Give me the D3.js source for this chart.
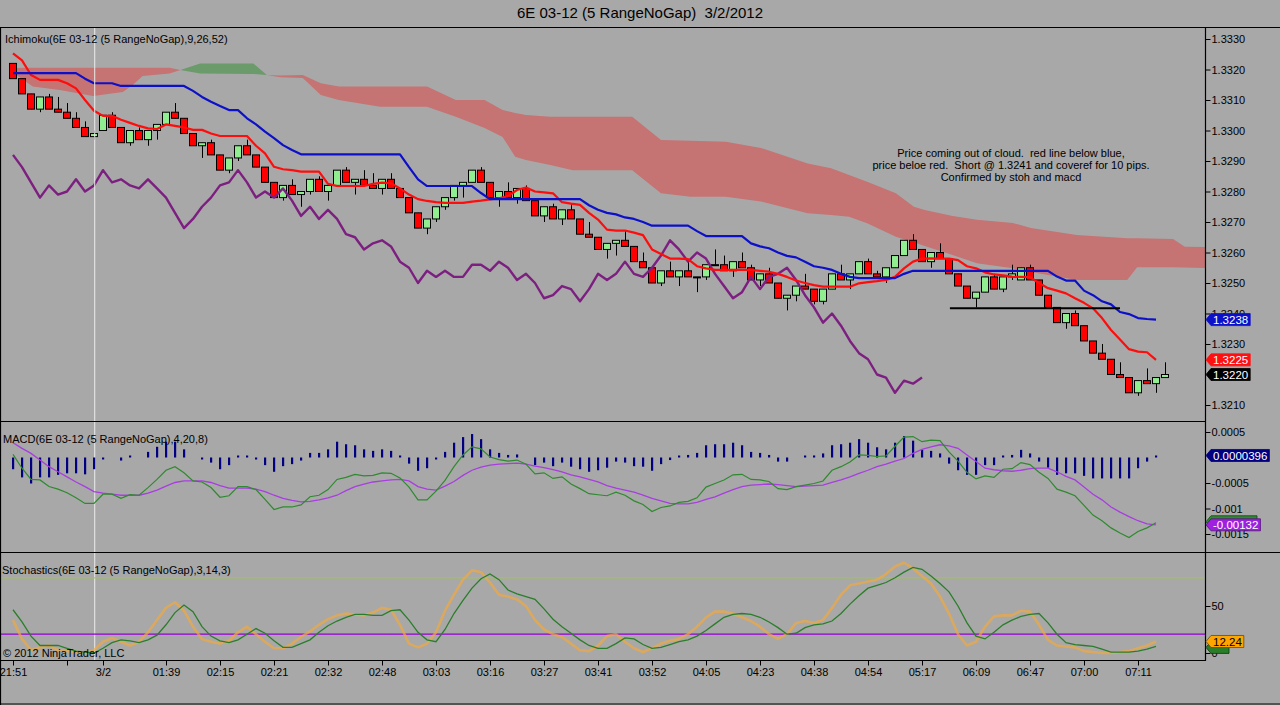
<!DOCTYPE html>
<html><head><meta charset="utf-8">
<script src="https://cdn.jsdelivr.net/npm/d3@7/dist/d3.min.js"></script>
<style>
html,body{margin:0;padding:0;background:#a8a8a8;overflow:hidden}
svg{display:block}
text{font-family:"Liberation Sans",Arial,Helvetica,sans-serif;white-space:pre}
</style></head><body>
<svg id="chart" width="1280" height="705"></svg>
<script>
// ---------------- DATA ----------------
const title = "6E 03-12 (5 RangeNoGap)  3/2/2012";
const xTickBars = [0,6,10,17,23,29,35,41,47,53,59,65,71,77,83,89,95,101,107,113,119,125];
const xTickLabels = ["21:51","","3/2","01:39","02:15","02:21","02:32","02:48","03:03","03:16","03:27","03:41","03:52","04:05","04:23","04:38","04:54","05:17","06:09","06:47","07:00","07:11"];
const priceTicks = [1.3330,1.3320,1.3310,1.3300,1.3290,1.3280,1.3270,1.3260,1.3250,1.3240,1.3230,1.3210];
const macdTicks = [0.0005,-0.0005,-0.001,-0.0015];
const macdTickLabels = ["0.0005","-0.0005","-0.001","-0.0015"];
const stochTicks = [0,50];
const stochLevels = [20,80];

const open=[1.3322,1.3317,1.3312,1.3307,1.3311,1.3307,1.3306,1.3304,1.3301,1.3298,
1.3300,1.3305,1.3301,1.3296,1.3300,1.3297,1.3300,1.3302,1.3306,1.3304,
1.3299,1.3295,1.3296,1.3292,1.3287,1.3291,1.3295,1.3292,1.3288,1.3283,
1.3278,1.3282,1.3279,1.3280,1.3284,1.3280,1.3282,1.3287,1.3283,1.3284,
1.3282,1.3281,1.3284,1.3281,1.3278,1.3273,1.3268,1.3271,1.3275,1.3278,
1.3282,1.3283,1.3287,1.3283,1.3278,1.3280,1.3278,1.3281,1.3277,1.3272,
1.3275,1.3271,1.3274,1.3271,1.3266,1.3265,1.3261,1.3263,1.3264,1.3262,
1.3257,1.3255,1.3250,1.3254,1.3252,1.3254,1.3252,1.3252,1.3256,1.3256,
1.3254,1.3257,1.3255,1.3251,1.3253,1.3250,1.3245,1.3246,1.3249,1.3248,
1.3244,1.3248,1.3253,1.3251,1.3253,1.3257,1.3253,1.3252,1.3255,1.3259,
1.3264,1.3261,1.3257,1.3260,1.3258,1.3253,1.3249,1.3245,1.3247,1.3252,
1.3248,1.3252,1.3251,1.3255,1.3251,1.3246,1.3242,1.3237,1.3240,1.3236,
1.3231,1.3227,1.3225,1.3220,1.3219,1.3214,1.3218,1.3217,1.3219];
const high=[1.3322,1.3317,1.3312,1.3311,1.3312,1.3311,1.3309,1.3306,1.3303,1.3300,
1.3305,1.3306,1.3301,1.3300,1.3301,1.3300,1.3302,1.3306,1.3309,1.3304,
1.3299,1.3296,1.3297,1.3292,1.3291,1.3295,1.3297,1.3292,1.3288,1.3283,
1.3282,1.3284,1.3280,1.3284,1.3285,1.3282,1.3287,1.3288,1.3284,1.3287,
1.3286,1.3284,1.3286,1.3281,1.3278,1.3273,1.3271,1.3275,1.3278,1.3282,
1.3283,1.3287,1.3288,1.3283,1.3280,1.3283,1.3281,1.3282,1.3277,1.3275,
1.3276,1.3274,1.3276,1.3271,1.3270,1.3265,1.3263,1.3264,1.3267,1.3262,
1.3260,1.3255,1.3254,1.3257,1.3254,1.3257,1.3252,1.3256,1.3261,1.3259,
1.3257,1.3260,1.3256,1.3253,1.3255,1.3250,1.3246,1.3249,1.3253,1.3248,
1.3248,1.3253,1.3256,1.3253,1.3257,1.3258,1.3254,1.3255,1.3259,1.3264,
1.3266,1.3261,1.3260,1.3263,1.3258,1.3253,1.3249,1.3247,1.3252,1.3253,
1.3252,1.3256,1.3255,1.3256,1.3251,1.3246,1.3242,1.3240,1.3241,1.3236,
1.3231,1.3230,1.3225,1.3224,1.3219,1.3218,1.3222,1.3219,1.3224];
const low=[1.3317,1.3312,1.3307,1.3306,1.3307,1.3306,1.3304,1.3301,1.3298,1.3297,
1.3300,1.3301,1.3296,1.3295,1.3297,1.3295,1.3297,1.3302,1.3304,1.3299,
1.3295,1.3291,1.3292,1.3287,1.3286,1.3290,1.3292,1.3288,1.3283,1.3278,
1.3277,1.3279,1.3275,1.3279,1.3280,1.3277,1.3282,1.3283,1.3279,1.3282,
1.3281,1.3279,1.3281,1.3278,1.3273,1.3268,1.3266,1.3270,1.3274,1.3277,
1.3278,1.3283,1.3283,1.3278,1.3275,1.3278,1.3276,1.3277,1.3272,1.3270,
1.3271,1.3269,1.3271,1.3266,1.3265,1.3261,1.3258,1.3259,1.3262,1.3257,
1.3255,1.3250,1.3249,1.3252,1.3249,1.3252,1.3247,1.3251,1.3256,1.3254,
1.3252,1.3255,1.3251,1.3249,1.3250,1.3245,1.3241,1.3244,1.3248,1.3243,
1.3243,1.3248,1.3251,1.3248,1.3253,1.3253,1.3252,1.3250,1.3255,1.3259,
1.3261,1.3257,1.3255,1.3258,1.3253,1.3249,1.3245,1.3242,1.3247,1.3248,
1.3247,1.3251,1.3251,1.3251,1.3246,1.3242,1.3237,1.3235,1.3236,1.3231,
1.3227,1.3225,1.3220,1.3219,1.3214,1.3213,1.3217,1.3214,1.3219];
const close=[1.3317,1.3312,1.3307,1.3311,1.3307,1.3306,1.3304,1.3301,1.3298,1.3299,
1.3305,1.3301,1.3296,1.3300,1.3297,1.3300,1.3302,1.3306,1.3304,1.3299,
1.3295,1.3296,1.3292,1.3287,1.3291,1.3295,1.3292,1.3288,1.3283,1.3278,
1.3282,1.3279,1.3280,1.3284,1.3280,1.3282,1.3287,1.3283,1.3284,1.3282,
1.3281,1.3284,1.3281,1.3278,1.3273,1.3268,1.3271,1.3275,1.3278,1.3282,
1.3283,1.3287,1.3283,1.3278,1.3280,1.3278,1.3281,1.3277,1.3272,1.3275,
1.3271,1.3274,1.3271,1.3266,1.3265,1.3261,1.3263,1.3264,1.3262,1.3257,
1.3255,1.3250,1.3254,1.3252,1.3254,1.3252,1.3252,1.3256,1.3256,1.3254,
1.3257,1.3255,1.3251,1.3253,1.3250,1.3245,1.3246,1.3249,1.3248,1.3244,
1.3248,1.3253,1.3251,1.3253,1.3257,1.3253,1.3252,1.3255,1.3259,1.3264,
1.3261,1.3257,1.3260,1.3258,1.3253,1.3249,1.3245,1.3247,1.3252,1.3248,
1.3252,1.3253,1.3255,1.3251,1.3246,1.3242,1.3237,1.3240,1.3236,1.3231,
1.3227,1.3225,1.3220,1.3219,1.3214,1.3218,1.3217,1.3219,1.3220];

// Ichimoku
const tenkan=[1.33253,1.33230,1.33182,1.33166,1.33166,1.33166,1.33155,1.33138,1.33100,1.33065,
1.33048,1.33048,1.33035,1.33025,1.33015,1.33007,1.33005,1.33020,1.33015,1.33010,
1.33002,1.33002,1.32990,1.32982,1.32982,1.32982,1.32982,1.32950,1.32925,1.32881,
1.32873,1.32870,1.32865,1.32865,1.32865,1.32825,1.32818,1.32818,1.32818,1.32818,
1.32825,1.32829,1.32827,1.32810,1.32790,1.32775,1.32769,1.32765,1.32763,1.32763,
1.32763,1.32767,1.32770,1.32774,1.32778,1.32785,1.32805,1.32813,1.32800,1.32797,
1.32794,1.32765,1.32760,1.32756,1.32730,1.32708,1.32675,1.32672,1.32672,1.32665,
1.32657,1.32610,1.32595,1.32580,1.32580,1.32578,1.32555,1.32548,1.32543,1.32543,
1.32543,1.32543,1.32543,1.32540,1.32537,1.32530,1.32520,1.32508,1.32500,1.32493,
1.32488,1.32488,1.32488,1.32488,1.32499,1.32503,1.32506,1.32510,1.32520,1.32548,
1.32570,1.32580,1.32581,1.32580,1.32580,1.32575,1.32555,1.32548,1.32535,1.32528,
1.32525,1.32521,1.32520,1.32519,1.32500,1.32483,1.32475,1.32466,1.32450,1.32435,
1.32417,1.32385,1.32346,1.32315,1.32283,1.32275,1.32273,1.32248];
const kijun=[1.33188,1.33188,1.33188,1.33188,1.33188,1.33188,1.33188,1.33188,1.33170,1.33155,
1.33155,1.33155,1.33146,1.33146,1.33146,1.33146,1.33146,1.33146,1.33146,1.33146,
1.33130,1.33110,1.33094,1.33080,1.33067,1.33067,1.33040,1.33020,1.32996,1.32975,
1.32952,1.32936,1.32922,1.32922,1.32922,1.32922,1.32922,1.32922,1.32922,1.32922,
1.32922,1.32922,1.32922,1.32922,1.32880,1.32840,1.32818,1.32818,1.32818,1.32818,
1.32818,1.32818,1.32795,1.32775,1.32775,1.32775,1.32775,1.32775,1.32775,1.32775,
1.32775,1.32775,1.32775,1.32775,1.32755,1.32740,1.32730,1.32725,1.32715,1.32710,
1.32700,1.32688,1.32688,1.32688,1.32688,1.32688,1.32670,1.32654,1.32654,1.32654,
1.32654,1.32654,1.32630,1.32620,1.32614,1.32600,1.32589,1.32584,1.32570,1.32555,
1.32550,1.32543,1.32530,1.32520,1.32516,1.32516,1.32516,1.32516,1.32516,1.32530,
1.32540,1.32540,1.32540,1.32540,1.32540,1.32540,1.32540,1.32540,1.32540,1.32540,
1.32540,1.32540,1.32540,1.32540,1.32540,1.32540,1.32521,1.32508,1.32508,1.32475,
1.32460,1.32440,1.32430,1.32405,1.32398,1.32385,1.32382,1.32380];
const chikou=[1.3292,1.3288,1.3283,1.3278,
1.3282,1.3279,1.3280,1.3284,1.3280,1.3282,1.3287,1.3283,1.3284,1.3282,
1.3281,1.3284,1.3281,1.3278,1.3273,1.3268,1.3271,1.3275,1.3278,1.3282,
1.3283,1.3287,1.3283,1.3278,1.3280,1.3278,1.3281,1.3277,1.3272,1.3275,
1.3271,1.3274,1.3271,1.3266,1.3265,1.3261,1.3263,1.3264,1.3262,1.3257,
1.3255,1.3250,1.3254,1.3252,1.3254,1.3252,1.3252,1.3256,1.3256,1.3254,
1.3257,1.3255,1.3251,1.3253,1.3250,1.3245,1.3246,1.3249,1.3248,1.3244,
1.3248,1.3253,1.3251,1.3253,1.3257,1.3253,1.3252,1.3255,1.3259,1.3264,
1.3261,1.3257,1.3260,1.3258,1.3253,1.3249,1.3245,1.3247,1.3252,1.3248,
1.3252,1.3253,1.3255,1.3251,1.3246,1.3242,1.3237,1.3240,1.3236,1.3231,
1.3227,1.3225,1.3220,1.3219,1.3214,1.3218,1.3217,1.3219];
const cloudBar=[0,2.2,5.2,8.9,12.2,13.3,14.4,17.4,18.6,20.8,26.7,28.2,29.7,32.2,34.2,36.2,40.8,46,49.2,52.4,54.4,55.8,57,59.7,62.2,68.8,72,75.3,79.2,83.1,88.3,90.9,92.9,94.9,98.1,100.1,101.3,104.4,107.1,111.1,113.1,118.2,123.8,124.9,128.9,130.2,132.5];
const spanA=[1.33189,1.33144,1.33133,1.33113,1.33126,1.33149,1.33179,1.33187,1.33198,1.33220,1.33220,1.33182,1.33175,1.33172,1.33116,1.33100,1.33078,1.33078,1.33045,1.33008,1.32979,1.32914,1.32903,1.32887,1.32870,1.32870,1.32794,1.32783,1.32783,1.32767,1.32729,1.32723,1.32717,1.32696,1.32652,1.32634,1.32621,1.32592,1.32565,1.32548,1.32536,1.32510,1.32510,1.32552,1.32552,1.32551,1.32549];
const spanB=[1.33205,1.33206,1.33206,1.33206,1.33206,1.33206,1.33206,1.33206,1.33198,1.33187,1.33185,1.33182,1.33180,1.33182,1.33155,1.33144,1.33144,1.33144,1.33100,1.33100,1.33067,1.33057,1.33051,1.33045,1.33045,1.33045,1.32969,1.32966,1.32963,1.32943,1.32892,1.32876,1.32854,1.32832,1.32794,1.32750,1.32739,1.32720,1.32707,1.32697,1.32680,1.32657,1.32647,1.32647,1.32644,1.32619,1.32618];
const tradeLine = {from:104.1, to:123, price:1.32417};
const sessionBreakBar = 9.08;
const note = ["Price coming out of cloud.  red line below blue,","price beloe red.  Short @ 1.3241 and coveref for 10 pips.","Confirmed by stoh and macd"];

// MACD(4,20,8)
const macdLine=[6e-5,-21e-5,-43e-5,-44e-5,-57e-5,-62e-5,-69e-5,-79e-5,-90e-5,-90e-5,
-72e-5,-72e-5,-80e-5,-73e-5,-74e-5,-59e-5,-43e-5,-25e-5,-18e-5,-30e-5,
-46e-5,-48e-5,-59e-5,-78e-5,-75e-5,-57e-5,-57e-5,-63e-5,-82e-5,-102e-5,
-97e-5,-97e-5,-93e-5,-77e-5,-74e-5,-63e-5,-43e-5,-39e-5,-33e-5,-36e-5,
-35e-5,-30e-5,-31e-5,-40e-5,-58e-5,-83e-5,-83e-5,-66e-5,-45e-5,-18e-5,
5e-5,21e-5,17e-5,1e-5,-4e-5,-7e-5,-5e-5,-13e-5,-32e-5,-30e-5,
-41e-5,-38e-5,-52e-5,-61e-5,-71e-5,-73e-5,-75e-5,-68e-5,-74e-5,-85e-5,
-92e-5,-106e-5,-98e-5,-95e-5,-88e-5,-86e-5,-79e-5,-58e-5,-51e-5,-44e-5,
-34e-5,-33e-5,-43e-5,-44e-5,-47e-5,-61e-5,-63e-5,-57e-5,-54e-5,-51e-5,
-46e-5,-25e-5,-18e-5,-9e-5,5e-5,4e-5,2e-5,3e-5,22e-5,40e-5,
41e-5,31e-5,34e-5,33e-5,11e-5,-7e-5,-29e-5,-42e-5,-36e-5,-39e-5,
-23e-5,-22e-5,-10e-5,-14e-5,-29e-5,-41e-5,-62e-5,-68e-5,-75e-5,-94e-5,
-113e-5,-124e-5,-138e-5,-148e-5,-157e-5,-145e-5,-138e-5,-128e-5];
const macdAvg=[29e-5,18e-5,8e-5,-5e-5,-18e-5,-28e-5,-38e-5,-48e-5,-57e-5,-67e-5,
-70e-5,-72e-5,-74e-5,-74e-5,-74e-5,-70e-5,-64e-5,-56e-5,-49e-5,-46e-5,
-46e-5,-46e-5,-49e-5,-55e-5,-60e-5,-60e-5,-60e-5,-62e-5,-67e-5,-74e-5,
-80e-5,-84e-5,-87e-5,-86e-5,-83e-5,-79e-5,-74e-5,-65e-5,-57e-5,-52e-5,
-48e-5,-46e-5,-44e-5,-43e-5,-46e-5,-57e-5,-62e-5,-64e-5,-56e-5,-47e-5,
-35e-5,-25e-5,-19e-5,-15e-5,-13e-5,-12e-5,-11e-5,-13e-5,-17e-5,-20e-5,
-24e-5,-28e-5,-34e-5,-38e-5,-43e-5,-48e-5,-55e-5,-60e-5,-64e-5,-68e-5,
-74e-5,-80e-5,-85e-5,-90e-5,-91e-5,-91e-5,-88e-5,-82e-5,-77e-5,-70e-5,
-63e-5,-57e-5,-54e-5,-53e-5,-52e-5,-53e-5,-55e-5,-57e-5,-56e-5,-55e-5,
-54e-5,-49e-5,-44e-5,-38e-5,-31e-5,-25e-5,-18e-5,-13e-5,-7e-5,-2e-5,
8e-5,16e-5,21e-5,25e-5,23e-5,18e-5,5e-5,-8e-5,-21e-5,-24e-5,
-26e-5,-27e-5,-25e-5,-22e-5,-21e-5,-21e-5,-28e-5,-37e-5,-44e-5,-58e-5,
-72e-5,-83e-5,-97e-5,-107e-5,-116e-5,-124e-5,-130e-5,-132e-5];
const macdDiff=[-23e-5,-39e-5,-51e-5,-39e-5,-39e-5,-34e-5,-31e-5,-31e-5,-33e-5,-23e-5,
-2e-5,0,-6e-5,1e-5,0,11e-5,21e-5,31e-5,31e-5,16e-5,
0,-2e-5,-10e-5,-23e-5,-15e-5,3e-5,3e-5,-1e-5,-15e-5,-28e-5,
-17e-5,-13e-5,-6e-5,9e-5,9e-5,16e-5,31e-5,26e-5,24e-5,16e-5,
13e-5,16e-5,13e-5,3e-5,-12e-5,-26e-5,-21e-5,-2e-5,11e-5,29e-5,
40e-5,46e-5,36e-5,16e-5,9e-5,5e-5,6e-5,0,-15e-5,-10e-5,
-17e-5,-10e-5,-18e-5,-23e-5,-28e-5,-25e-5,-20e-5,-8e-5,-10e-5,-17e-5,
-18e-5,-26e-5,-13e-5,-5e-5,3e-5,5e-5,9e-5,24e-5,26e-5,26e-5,
29e-5,24e-5,11e-5,9e-5,5e-5,-8e-5,-8e-5,0,2e-5,4e-5,
8e-5,24e-5,26e-5,29e-5,36e-5,29e-5,20e-5,16e-5,29e-5,42e-5,
33e-5,15e-5,13e-5,8e-5,-12e-5,-25e-5,-34e-5,-34e-5,-15e-5,-15e-5,
3e-5,5e-5,15e-5,8e-5,-8e-5,-20e-5,-34e-5,-31e-5,-31e-5,-36e-5,
-41e-5,-41e-5,-41e-5,-41e-5,-41e-5,-21e-5,-8e-5,3.96e-5];

// Stochastics(3,14,3)
const stochD=[46,33,18,8,8,8,5,2,1,0, 5,11,14,13,11,14,19,30,43,51, 44,28,18,13,11,14,20,26,21,13,
6,6,10,14,22,29,34,38,41,41, 40,40,45,46,35,22,14,12,25,42, 56,69,79,84,78,67,63,60,57,47,
36,28,21,14,8,5,5,10,16,15, 9,5,6,9,12,14,18,24,31,38, 41,42,41,38,33,27,20,21,27,30,
31,34,42,52,61,69,72,75,80,86, 91,89,82,74,65,50,32,18,15,22, 30,35,39,41,42,32,20,11,9,8,
7,4,1,1,1,2,4,7];
const stochK=[35,15,3,6,8,3,2,1,0,3, 12,16,12,8,12,22,35,48,54,45, 28,15,12,10,13,22,28,20,12,5,
5,10,17,23,30,36,40,42,41,40, 43,48,46,30,10,6,10,22,45,62, 78,88,86,75,62,60,57,50,35,25,
20,17,10,3,2,8,18,20,12,5, 1,5,10,13,15,20,28,38,44,44, 42,38,34,28,20,15,20,32,34,32,
35,48,62,72,74,76,78,84,92,96, 90,82,74,60,42,20,8,12,28,39, 40,40,45,44,30,14,8,7,6,2,
1,0,0,1,2,5,8,12.24];

// ---------------- DRAW ----------------
const svg = d3.select('#chart');
const FONT = '"Liberation Sans",Arial,Helvetica,sans-serif';
const AX = 1205;
const x = d3.scaleLinear().domain([0,128]).range([13,1165]);
const yP = d3.scaleLinear().domain([1.3210,1.3330]).range([405,39]);
const yM = d3.scaleLinear().domain([-0.0015,0.0005]).range([534,432]);
const yS = d3.scaleLinear().domain([0,50]).range([653,606]);

svg.append('rect').attr('width',1280).attr('height',705).attr('fill','#a8a8a8');

const defs = svg.append('defs');
function clip(id,y0,y1){ defs.append('clipPath').attr('id',id).append('rect').attr('x',1).attr('y',y0).attr('width',AX-1).attr('height',y1-y0); }
clip('cMain',28,421); clip('cMacd',422,552); clip('cStoch',553,660);

// title
svg.append('text').attr('x',640).attr('y',18).attr('text-anchor','middle').attr('font-size',15).attr('fill','#000').text(title);

// ---- main panel ----
const gMain = svg.append('g').attr('clip-path','url(#cMain)');
const cloud = cloudBar.map((b,i)=>({b,a:spanA[i],s:spanB[i]}));
gMain.append('path').datum(cloud).attr('fill','#c57373')
  .attr('d', d3.area().x(d=>x(d.b)).y0(d=>yP(d.a)).y1(d=>yP(Math.max(d.a,d.s))));
gMain.append('path').datum(cloud).attr('fill','#6b9a6b')
  .attr('d', d3.area().x(d=>x(d.b)).y0(d=>yP(d.s)).y1(d=>yP(Math.max(d.a,d.s))));

// candles
const bars = open.map((o,i)=>({i,o,h:high[i],l:low[i],c:close[i]}));
const gC = gMain.append('g');
gC.selectAll('line.w').data(bars).enter().append('line')
  .attr('x1',d=>x(d.i)+0.5).attr('x2',d=>x(d.i)+0.5)
  .attr('y1',d=>yP(d.h)).attr('y2',d=>yP(d.l)).attr('stroke','#000').attr('stroke-width',1);
gC.selectAll('rect.b').data(bars).enter().append('rect')
  .attr('x',d=>x(d.i)-3.5).attr('width',7)
  .attr('y',d=>Math.min(yP(d.o),yP(d.c)))
  .attr('height',d=>Math.max(1,Math.abs(yP(d.o)-yP(d.c))))
  .attr('fill',d=>d.c>d.o?'#90ee90':(d.c<d.o?'#ff0000':'#000'))
  .attr('stroke','#000').attr('stroke-width',1);

const lineI = d3.line().x((d,i)=>x(i)).y(d=>yP(d));
gMain.append('path').datum(chikou).attr('d',lineI).attr('fill','none').attr('stroke','#7d1f80').attr('stroke-width',2.4).attr('stroke-linejoin','round');
gMain.append('path').datum(tenkan).attr('d',lineI).attr('fill','none').attr('stroke','#ff0c0c').attr('stroke-width',2.2).attr('stroke-linejoin','round');
gMain.append('path').datum(kijun).attr('d',lineI).attr('fill','none').attr('stroke','#0c10c8').attr('stroke-width',2.2).attr('stroke-linejoin','round');

gMain.append('line').attr('x1',x(tradeLine.from)).attr('x2',x(tradeLine.to))
  .attr('y1',yP(tradeLine.price)).attr('y2',yP(tradeLine.price)).attr('stroke','#000').attr('stroke-width',2);

// session break line
svg.append('line').attr('x1',x(sessionBreakBar)).attr('x2',x(sessionBreakBar)).attr('y1',28).attr('y2',660).attr('stroke','#ececec').attr('stroke-width',1);

note.forEach((t,k)=>{
  svg.append('text').attr('x',1011).attr('y',157+k*12).attr('text-anchor','middle').attr('font-size',11).attr('fill','#000').text(t);
});
svg.append('text').attr('x',5).attr('y',43).attr('font-size',11).attr('fill','#000').text('Ichimoku(6E 03-12 (5 RangeNoGap),9,26,52)');

// ---- MACD panel ----
const gM = svg.append('g').attr('clip-path','url(#cMacd)');
gM.selectAll('rect.h').data(macdDiff.map((v,i)=>({v,i})).filter(d=>d.v!==0)).enter().append('rect')
  .attr('x',d=>x(d.i)-1).attr('width',2.2)
  .attr('y',d=>{const y0=yM(0),y1=yM(d.v);const h=Math.max(2,Math.abs(y1-y0));return d.v>0?y0-h:y0;})
  .attr('height',d=>Math.max(2,Math.abs(yM(d.v)-yM(0))))
  .attr('fill','#000080');
const lineM = d3.line().x((d,i)=>x(i)).y(d=>yM(d));
gM.append('path').datum(macdAvg).attr('d',lineM).attr('fill','none').attr('stroke','#a83ee0').attr('stroke-width',1.3);
gM.append('path').datum(macdLine).attr('d',lineM).attr('fill','none').attr('stroke','#2f8a2f').attr('stroke-width',1.2);
svg.append('text').attr('x',3).attr('y',443).attr('font-size',11).attr('fill','#000').text('MACD(6E 03-12 (5 RangeNoGap),4,20,8)');

// ---- Stochastics panel ----
const gS = svg.append('g').attr('clip-path','url(#cStoch)');
gS.append('line').attr('x1',1).attr('x2',AX).attr('y1',yS(stochLevels[1])).attr('y2',yS(stochLevels[1])).attr('stroke','#9acd32').attr('stroke-width',1);
gS.append('line').attr('x1',1).attr('x2',AX).attr('y1',yS(stochLevels[0])).attr('y2',yS(stochLevels[0])).attr('stroke','#9400d3').attr('stroke-width',1.2);
const lineS = d3.line().x((d,i)=>x(i)).y(d=>yS(d));
gS.append('path').datum(stochK).attr('d',lineS).attr('fill','none').attr('stroke','#f0aa40').attr('stroke-opacity',0.7).attr('stroke-width',2.6).attr('stroke-linejoin','round');
gS.append('path').datum(stochD).attr('d',lineS).attr('fill','none').attr('stroke','#2a7e2a').attr('stroke-width',1.3);
svg.append('text').attr('x',2).attr('y',574).attr('font-size',11).attr('fill','#000').text('Stochastics(6E 03-12 (5 RangeNoGap),3,14,3)');
svg.append('text').attr('x',3).attr('y',657).attr('font-size',11).attr('fill','#000').text('© 2012 NinjaTrader, LLC');

// ---- frames ----
const fr = svg.append('g').attr('stroke','#000').attr('stroke-width',1.2);
fr.append('line').attr('x1',0).attr('x2',1280).attr('y1',27.5).attr('y2',27.5);
fr.append('line').attr('x1',0).attr('x2',AX).attr('y1',421.5).attr('y2',421.5);
fr.append('line').attr('x1',0).attr('x2',1280).attr('y1',552.5).attr('y2',552.5);
fr.append('line').attr('x1',0).attr('x2',AX).attr('y1',660.5).attr('y2',660.5);
fr.append('line').attr('x1',AX+0.5).attr('x2',AX+0.5).attr('y1',27).attr('y2',661);
fr.append('line').attr('x1',0.5).attr('x2',0.5).attr('y1',27).attr('y2',705);
fr.append('line').attr('x1',0).attr('x2',1280).attr('y1',704).attr('y2',704);

// ---- axes ----
function styleAxis(g){
  g.select('.domain').remove();
  g.attr('font-family',FONT).attr('font-size',11);
  g.selectAll('.tick line').attr('stroke','#000');
  g.selectAll('.tick text').attr('fill','#000');
}
svg.append('g').attr('transform',`translate(${AX+0.5},0)`)
  .call(d3.axisRight(yP).tickValues(priceTicks).tickFormat(d3.format('.4f')).tickSize(5).tickPadding(1)).call(styleAxis);
svg.append('g').attr('transform',`translate(${AX+0.5},0)`)
  .call(d3.axisRight(yM).tickValues(macdTicks).tickFormat((d,i)=>macdTickLabels[i]).tickSize(5).tickPadding(1)).call(styleAxis);
svg.append('g').attr('transform',`translate(${AX+0.5},0)`)
  .call(d3.axisRight(yS).tickValues(stochTicks).tickFormat(d3.format('d')).tickSize(5).tickPadding(1)).call(styleAxis);
svg.append('g').attr('transform','translate(0,660.5)')
  .call(d3.axisBottom(x).tickValues(xTickBars).tickFormat((d,i)=>xTickLabels[i]).tickSize(5).tickPadding(3)).call(styleAxis);

// ---- value flags ----
function flag(yc, txt, fill, tc, stroke, wHidden){
  const g = svg.append('g');
  const p = g.append('path').attr('fill',fill).attr('stroke',stroke||fill).attr('stroke-width',0.8);
  let w = wHidden || 0;
  if (txt) {
    const t = g.append('text').attr('x',1213).attr('y',yc).attr('dy','0.35em').attr('font-size',11.5).attr('fill',tc).text(txt);
    w = t.node().getComputedTextLength();
  }
  const x0=AX+1, x1=AX+6, x2=1213+w+2, h=6;
  p.attr('d',`M${x0},${yc}L${x1},${yc-h}L${x2},${yc-h}L${x2},${yc+h}L${x1},${yc+h}Z`);
}
flag(yP(kijun[127]), d3.format('.4f')(kijun[127]), '#0c10c8', '#fff');
flag(yP(tenkan[127]), d3.format('.4f')(tenkan[127]), '#ff1010', '#fff');
flag(yP(close[128]), d3.format('.4f')(close[128]), '#000', '#fff');
flag(yM(macdDiff[127]), '0.0000396', '#000080', '#fff');
flag(yM(macdLine[127])-1, '', '#2f8a2f', '#fff', '#0a4a0a', 42);
flag(yM(macdAvg[127]), '-0.00132', '#a020e0', '#fff', '#50107a');
flag(yS(stochD[127])+1, '', '#2a7e2a', '#fff', '#0a3a0a', 14);
flag(yS(stochK[127]), '12.24', '#ffa500', '#000', '#6a4a00');
</script>
</body></html>
